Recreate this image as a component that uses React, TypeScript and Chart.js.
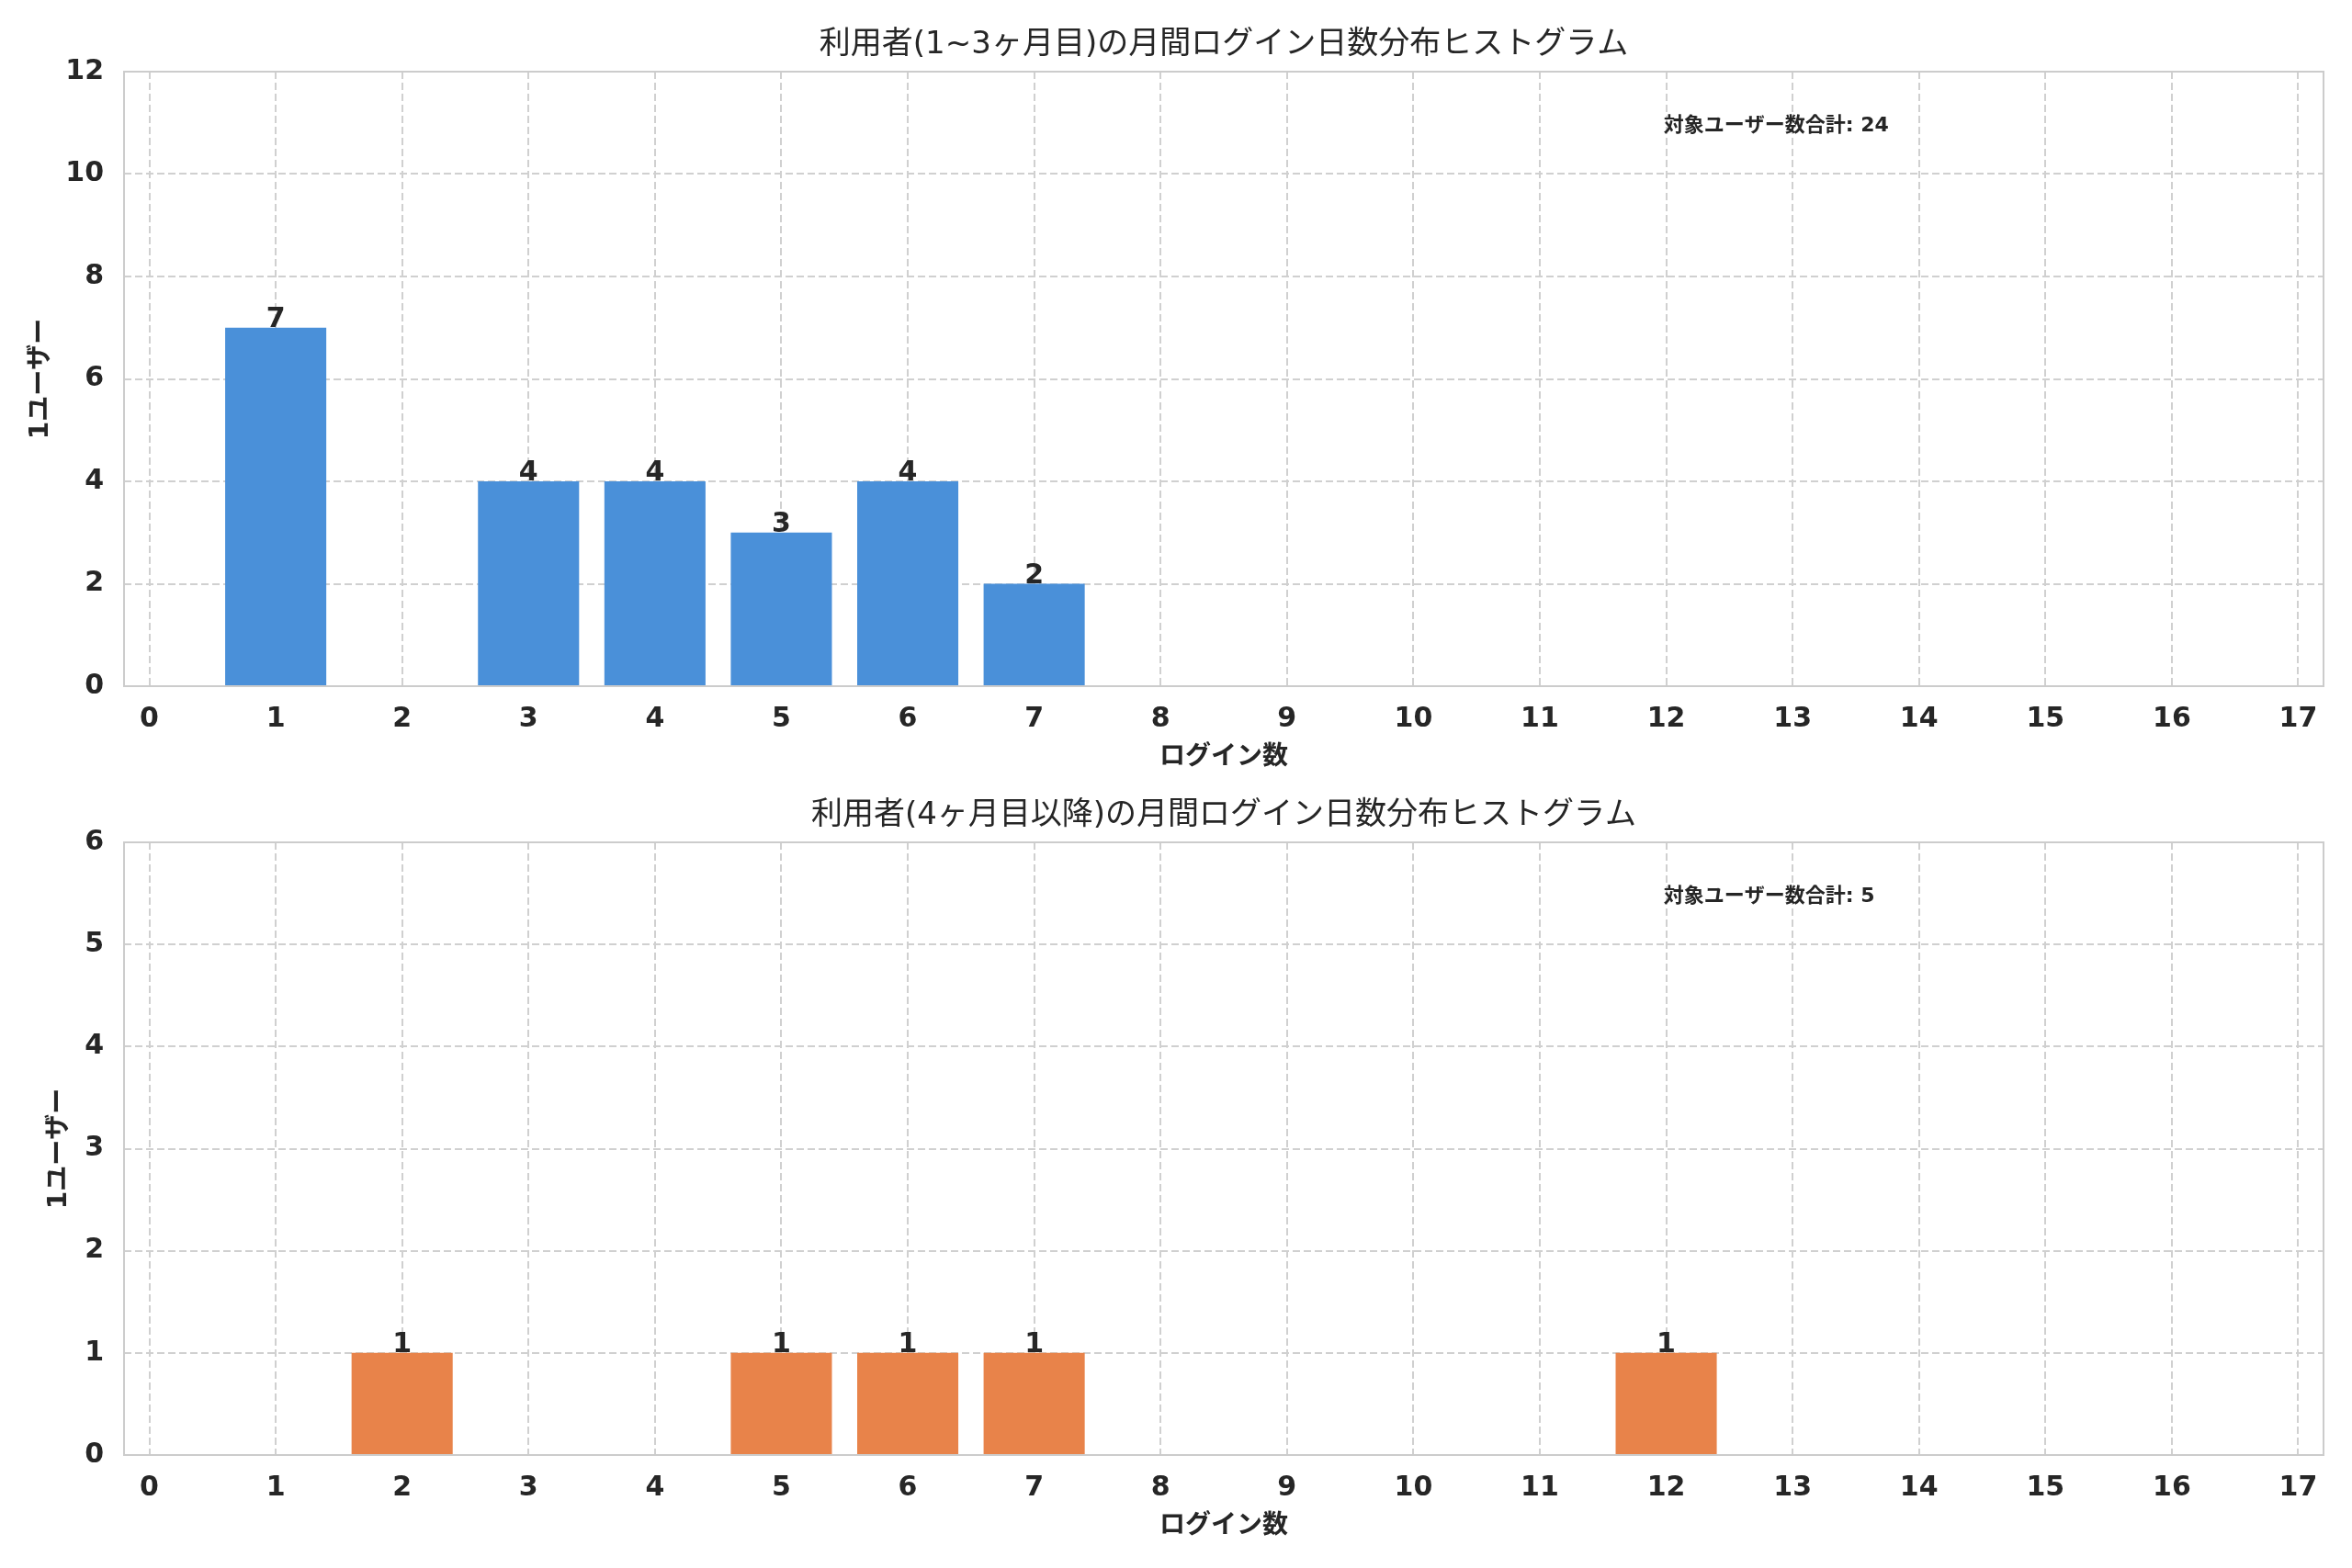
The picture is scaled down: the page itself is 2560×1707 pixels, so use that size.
import { useEffect, useRef } from "react"
import { Chart, registerables } from "chart.js"

Chart.register(...registerables)

// login-day bins (x) and user counts per bin
const loginDays = [0, 1, 2, 3, 4, 5, 6, 7, 8, 9, 10, 11, 12, 13, 14, 15, 16, 17]
const earlyCounts = [0, 7, 0, 4, 4, 3, 4, 2, 0, 0, 0, 0, 0, 0, 0, 0, 0, 0]
const lateCounts = [0, 0, 1, 0, 0, 1, 1, 1, 0, 0, 0, 0, 1, 0, 0, 0, 0, 0]

const earlyTitle = "利用者(1~3ヶ月目)の月間ログイン日数分布ヒストグラム"
const lateTitle = "利用者(4ヶ月目以降)の月間ログイン日数分布ヒストグラム"
const xLabel = "ログイン数"
const yLabel = "1ユーザー"
const totalLabel = "対象ユーザー数合計"

const earlyYMax = 12
const earlyYStep = 2
const lateYMax = 6
const lateYStep = 1

const FONT = '"DejaVu Sans", "Noto Sans CJK JP", sans-serif'
const TEXT = "#262626"
const GRID = "#d0d0d0"
const FRAME = "#cccccc"
const TICK_SIZE = 30

const W = 2560

interface PanelProps {
  title: string
  counts: number[]
  color: string
  yMax: number
  yStep: number
  height: number
  areaTop: number
  areaBottom: number
}

function HistPanel({ title, counts, color, yMax, yStep, height, areaTop, areaBottom }: PanelProps) {
  const canvasRef = useRef<HTMLCanvasElement>(null)
  const chartRef = useRef<Chart | null>(null)

  useEffect(() => {
    if (!canvasRef.current) return
    if (chartRef.current) chartRef.current.destroy()

    const total = counts.reduce((s, v) => s + v, 0)
    const xAxisHeight = 60

    const deco = {
      id: "deco",
      afterDatasetsDraw(chart: any) {
        const { ctx, chartArea: a } = chart
        const cx = (a.left + a.right) / 2
        ctx.save()

        // value labels on bars
        ctx.fillStyle = TEXT
        ctx.font = `bold ${TICK_SIZE}px ${FONT}`
        ctx.textAlign = "center"
        ctx.textBaseline = "alphabetic"
        chart.getDatasetMeta(0).data.forEach((bar: any, i: number) => {
          if (!counts[i]) return
          ctx.fillText(String(counts[i]), bar.x, bar.y - 1)
        })

        // frame
        ctx.strokeStyle = FRAME
        ctx.lineWidth = 2
        ctx.strokeRect(a.left, a.top, a.right - a.left, a.bottom - a.top)

        // title
        ctx.fillStyle = TEXT
        ctx.font = `34px ${FONT}`
        ctx.textBaseline = "middle"
        ctx.fillText(title, cx, a.top - 29)

        // x label
        ctx.font = `bold 28px ${FONT}`
        ctx.fillText(xLabel, cx, a.bottom + 78)

        // y label
        ctx.font = `bold ${TICK_SIZE}px ${FONT}`
        const tickW = ctx.measureText(String(yMax)).width
        ctx.font = `bold 28px ${FONT}`
        const ly = a.left - 22 - tickW - 27
        ctx.translate(ly, (a.top + a.bottom) / 2)
        ctx.rotate(-Math.PI / 2)
        ctx.fillText(yLabel, 0, 0)
        ctx.setTransform(1, 0, 0, 1, 0, 0)

        // total annotation
        ctx.font = `bold 22px ${FONT}`
        ctx.textAlign = "left"
        ctx.fillText(`${totalLabel}: ${total}`, a.left + 0.7 * (a.right - a.left), a.top + 59)
        ctx.restore()
      },
    }

    chartRef.current = new Chart(canvasRef.current, {
      type: "bar",
      data: {
        datasets: [
          {
            data: loginDays.map((d, i) => ({ x: d, y: counts[i] })),
            backgroundColor: color,
            borderWidth: 0,
            barPercentage: 0.8,
            categoryPercentage: 1,
          },
        ],
      },
      options: {
        responsive: false,
        animation: false,
        events: [],
        layout: {
          padding: { top: areaTop, left: 0, right: 31, bottom: height - areaBottom - xAxisHeight },
        },
        plugins: {
          legend: { display: false },
          tooltip: { enabled: false },
          title: { display: false },
        },
        scales: {
          x: {
            type: "linear",
            min: -0.2,
            max: 17.2,
            offset: false,
            afterFit: (s: any) => {
              s.height = xAxisHeight
            },
            ticks: {
              stepSize: 1,
              includeBounds: false,
              color: TEXT,
              padding: 18,
              maxRotation: 0,
              autoSkip: false,
              font: { family: FONT, size: TICK_SIZE, weight: "bold" },
            },
            grid: { color: GRID, lineWidth: 2, drawTicks: false, offset: false },
            border: { display: false, dash: [8, 4] },
          },
          y: {
            min: 0,
            max: yMax,
            afterFit: (s: any) => {
              s.width = 135
            },
            ticks: {
              stepSize: yStep,
              color: TEXT,
              padding: 22,
              font: { family: FONT, size: TICK_SIZE, weight: "bold" },
            },
            grid: { color: GRID, lineWidth: 2, drawTicks: false },
            border: { display: false, dash: [8, 4] },
          },
        },
      },
      plugins: [deco],
    } as any)

    return () => {
      if (chartRef.current) {
        chartRef.current.destroy()
        chartRef.current = null
      }
    }
  }, [title, counts, color, yMax, yStep, height, areaTop, areaBottom])

  return <canvas ref={canvasRef} width={W} height={height} style={{ display: "block", width: W, height }} />
}

export default function App() {
  return (
    <div style={{ position: "absolute", left: 0, top: 0, width: W, height: 1707, background: "#fff" }}>
      <HistPanel
        title={earlyTitle}
        counts={earlyCounts}
        color="#4a90d9"
        yMax={earlyYMax}
        yStep={earlyYStep}
        height={854}
        areaTop={78}
        areaBottom={747}
      />
      <HistPanel
        title={lateTitle}
        counts={lateCounts}
        color="#e8834a"
        yMax={lateYMax}
        yStep={lateYStep}
        height={853}
        areaTop={63}
        areaBottom={730}
      />
    </div>
  )
}
